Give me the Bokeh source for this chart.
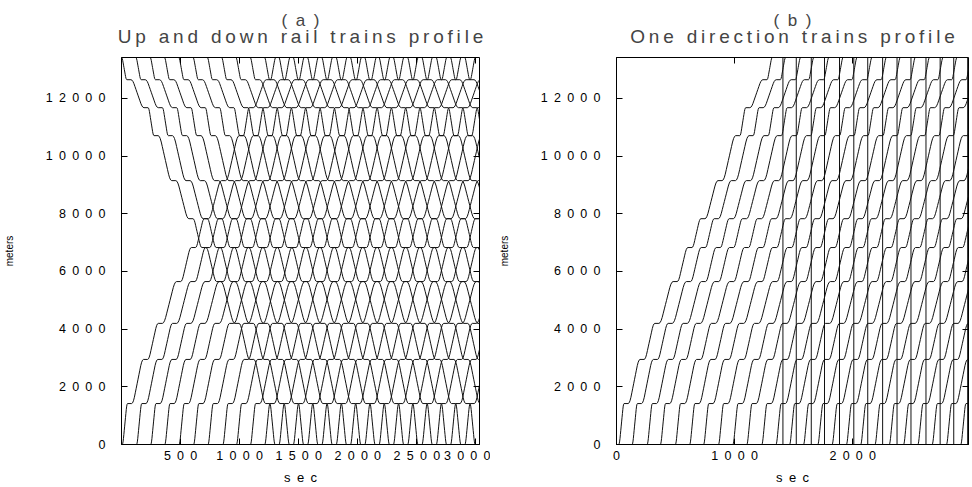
import numpy as np
from bokeh.plotting import figure
from bokeh.layouts import row
from bokeh.models import Title, LinearAxis, Range1d, FixedTicker, CustomJSTickFormatter
from bokeh.embed import file_html
from bokeh.resources import INLINE

# Station positions along the line (m); the last one is the terminus at the top
stations_m = [0, 1420, 2950, 4200, 5650, 6830, 7830, 9150, 10710, 11680, 12650, 13420]
# Arrival / departure offsets (s) at each station, counted from leaving station 0
arrive_s = [0, 45, 180, 305, 460, 585, 695, 840, 990, 1075, 1220, 1300]
depart_s = [0, 80, 215, 340, 495, 620, 730, 875, 1025, 1110, 1255, 1390]

# (a) departures of the up trains (from 0 m) and the down trains (from the top)
up_departures = [6, 127, 247, 366, 487, 610, 732, 858, 973, 1091, 1212, 1333, 1454,
                 1575, 1696, 1817, 1938, 2059, 2180, 2301, 2422, 2543, 2664, 2785,
                 2906, 3027]
down_departures = [0, 121, 242, 363, 484, 605, 726, 847, 968, 1089, 1210, 1331, 1452,
                   1573, 1694, 1815, 1936, 2057, 2178, 2299, 2420, 2541, 2662, 2783,
                   2904, 3025]
# (b) departures of the one-direction trains
b_departures = [19, 132, 259, 371, 498, 619, 737, 863, 985, 1103, 1230, 1350, 1465,
                1583, 1704, 1825, 1946, 2067, 2188, 2309, 2430, 2551, 2672, 2793,
                2914]

x_ticks_a = [500, 1000, 1500, 2000, 2500, 3000]
x_ticks_b = [0, 1000, 2000]
y_ticks = [0, 2000, 4000, 6000, 8000, 10000, 12000]

FONT = "Liberation Sans"
EN = "\u2002"
THIN = "\u2009"


def spaced(text, sep=EN):
    return sep.join(text)


def ease(tau, f=0.25):
    """Share of a run covered at time fraction tau (accelerate, cruise, brake)."""
    v = 1.0 / (1.0 - f)
    return np.where(tau < f, v * tau ** 2 / (2 * f),
                    np.where(tau > 1 - f, 1 - v * (1 - tau) ** 2 / (2 * f),
                             v * (f / 2 + (tau - f))))


def trip(t0, stops, arr, dep):
    """Time/position path of one train through the given station sequence."""
    xs, ys = [], []
    tau = np.linspace(0, 1, 14)
    for i in range(len(stops) - 1):
        t_a, t_b = t0 + dep[i], t0 + arr[i + 1]
        s_a, s_b = stops[i], stops[i + 1]
        xs.extend(t_a + tau * (t_b - t_a))
        ys.extend(s_a + ease(tau) * (s_b - s_a))
    return xs, ys


# running and dwell times per segment / station, used for both directions
run_s = [arrive_s[i + 1] - depart_s[i] for i in range(len(stations_m) - 1)]
dwell_s = [depart_s[i] - arrive_s[i] for i in range(len(stations_m))]

n = len(stations_m)
down_stops = stations_m[::-1]
down_arr, down_dep = [0.0], [0.0]
for k in range(1, n):
    seg = n - 1 - k  # segment between station seg and seg+1
    a = down_dep[-1] + run_s[seg]
    down_arr.append(a)
    down_dep.append(a + dwell_s[seg])

Y_MAX = 13420


def mirror_axis(ticks):
    # tick marks only, for the top and right edges of the frame
    return LinearAxis(ticker=FixedTicker(ticks=ticks), major_tick_in=6,
                      major_tick_out=0, minor_tick_line_color=None,
                      major_label_text_color=None, major_label_text_font_size="2px",
                      major_label_standoff=0, axis_line_color=None)


def make_fig(width, left, right, x_end, ticks, title_top, title_main):
    p = figure(width=width, height=487, x_range=Range1d(0, x_end),
               y_range=Range1d(0, Y_MAX), output_backend="svg", title=None,
               toolbar_location=None, min_border_left=left,
               min_border_right=right, min_border_top=57, min_border_bottom=43)
    p.grid.visible = False
    p.outline_line_color = "black"
    p.outline_line_width = 1
    p.background_fill_color = "white"
    p.border_fill_color = "white"

    fmt = CustomJSTickFormatter(code="return String(tick).split('').join('\u2002');")
    for ax in (p.xaxis[0], p.yaxis[0]):
        ax.major_tick_in = 6
        ax.major_tick_out = 0
        ax.minor_tick_line_color = None
        ax.axis_line_color = "black"
        ax.major_label_text_font = FONT
        ax.major_label_text_font_size = "12.5px"
        ax.major_label_text_color = "black"
        ax.formatter = fmt
        ax.axis_label_text_font = FONT
        ax.axis_label_text_font_style = "normal"
        ax.axis_label_text_color = "black"
    p.xaxis.ticker = FixedTicker(ticks=ticks)
    p.yaxis.ticker = FixedTicker(ticks=y_ticks)
    p.xaxis.axis_label = spaced("sec")
    p.xaxis.axis_label_text_font_size = "13px"
    p.xaxis.major_label_standoff = 4
    p.xaxis.axis_label_standoff = 4
    p.yaxis.axis_label = "meters"
    p.yaxis.axis_label_text_font_size = "10px"
    p.yaxis.major_label_standoff = 16
    p.yaxis.axis_label_standoff = 28

    p.add_layout(mirror_axis(ticks), "above")
    p.add_layout(mirror_axis(y_ticks), "right")

    # two-line heading: the panel label sits tight above the descriptive title
    p.add_layout(Title(text=title_main, text_font=FONT, text_font_size="19px",
                       text_font_style="normal", align="center", standoff=21), "above")
    p.add_layout(Title(text=title_top, text_font=FONT, text_font_size="17px",
                       text_font_style="normal", align="center", standoff=-32), "above")
    return p


pa = make_fig(490, 119, 11, 3030, x_ticks_a, spaced("(a)"),
              spaced("Up and down rail trains profile", THIN))
xs, ys = [], []
for t0 in up_departures:
    x, y = trip(t0, stations_m, arrive_s, depart_s)
    xs.append(x)
    ys.append(y)
for t0 in down_departures:
    x, y = trip(t0, down_stops, down_arr, down_dep)
    xs.append(x)
    ys.append(y)
pa.multi_line(xs, ys, line_color="#111111", line_width=1)

pb = make_fig(482, 126, 4, 2980, x_ticks_b, spaced("(b)"),
              spaced("One direction trains profile", THIN))
xs, ys = [], []
for t0 in b_departures:
    x, y = trip(t0, stations_m, arrive_s, depart_s)
    # after the terminus dwell the train drops back to the origin
    x = x + [t0 + depart_s[-1], t0 + depart_s[-1]]
    y = y + [Y_MAX, 0]
    xs.append(x)
    ys.append(y)
pb.multi_line(xs, ys, line_color="#111111", line_width=1)

layout = row(pa, pb)
open("out.html", "w").write(file_html(layout, INLINE))
